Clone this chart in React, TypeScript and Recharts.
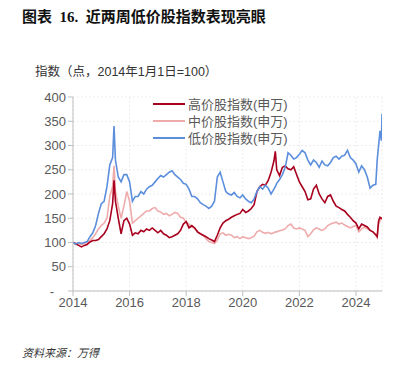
import React from "react";
import { LineChart, Line, XAxis, YAxis, CartesianGrid } from "recharts";

// 时间（年份小数）
const times = [
  2014.0, 2014.1, 2014.2, 2014.3, 2014.4, 2014.5, 2014.6, 2014.7, 2014.8, 2014.9,
  2015.0, 2015.1, 2015.2, 2015.3, 2015.4, 2015.45, 2015.5, 2015.6, 2015.7, 2015.8, 2015.9,
  2016.0, 2016.1, 2016.2, 2016.3, 2016.4, 2016.5, 2016.6, 2016.7, 2016.8, 2016.9,
  2017.0, 2017.1, 2017.2, 2017.3, 2017.4, 2017.5, 2017.6, 2017.7, 2017.8, 2017.9,
  2018.0, 2018.1, 2018.2, 2018.3, 2018.4, 2018.5, 2018.6, 2018.7, 2018.8, 2018.9,
  2019.0, 2019.1, 2019.2, 2019.3, 2019.4, 2019.5, 2019.6, 2019.7, 2019.8, 2019.9,
  2020.0, 2020.1, 2020.2, 2020.3, 2020.4, 2020.5, 2020.6, 2020.7, 2020.8, 2020.9,
  2021.0, 2021.1, 2021.15, 2021.2, 2021.3, 2021.4, 2021.5, 2021.6, 2021.7, 2021.8, 2021.9,
  2022.0, 2022.1, 2022.2, 2022.3, 2022.4, 2022.5, 2022.6, 2022.7, 2022.8, 2022.9,
  2023.0, 2023.1, 2023.2, 2023.3, 2023.4, 2023.5, 2023.6, 2023.7, 2023.8, 2023.9,
  2024.0, 2024.1, 2024.2, 2024.3, 2024.4, 2024.5, 2024.6, 2024.7, 2024.75, 2024.8,
  2024.85, 2024.9, 2024.92,
];

// 高价股指数(申万)
const highPrice = [
  100, 97, 94, 91, 94, 96, 101, 104, 104, 106,
  112, 118, 128, 145, 180, 228, 185, 150, 118, 145, 150,
  138, 115, 120, 118, 125, 122, 128, 125, 130, 125,
  120, 125, 118, 115, 110, 112, 115, 118, 125, 138,
  143, 130, 135, 130, 122, 118, 115, 112, 108, 105,
  102, 115, 130, 140, 145, 148, 152, 155, 158, 160,
  168, 162, 165, 170, 178, 205, 215, 220, 218, 228,
  245, 268, 288, 250, 238, 255, 258, 252, 250, 256, 240,
  225, 215, 205, 188, 190, 210, 218, 200, 190, 182,
  195, 198, 185, 175, 172, 168, 165, 158, 152, 145,
  140, 128, 138, 135, 132, 125, 122, 116, 112, 145,
  152, 150, 148,
];

// 中价股指数(申万)
const midPrice = [
  100, 99, 98, 96, 98, 100, 104, 110, 118, 128,
  135, 140, 150, 195, 215, 258, 205, 175, 150, 175, 205,
  185, 140, 145, 150, 155, 160, 165, 165, 170, 172,
  165, 163, 158, 160, 155, 158, 162, 160, 152, 150,
  142, 138, 132, 130, 122, 118, 115, 108, 102, 100,
  98, 105, 118, 120, 115, 117, 115, 110, 112, 108,
  112, 110, 108, 110, 113, 122, 125, 121, 119, 121,
  118, 120, 122, 122, 124, 126, 128, 135, 138, 130, 128,
  130, 128, 125, 112, 118, 126, 130, 128, 125, 128,
  135, 138, 140, 142, 138, 140, 136, 133, 130, 133,
  135, 122, 128, 132, 128, 125, 122, 115, 110, 138,
  145, 150, 148,
];

// 低价股指数(申万)
const lowPrice = [
  100, 97, 100, 98, 100, 102, 112, 120, 135, 160,
  180, 185, 215, 260, 275, 340, 270, 235, 225, 240, 240,
  225, 185, 195, 195, 205, 200, 210, 215, 218, 225,
  232, 238, 235, 240, 245, 248, 240, 235, 230, 222,
  220, 210, 195, 195, 190, 182, 178, 175, 170, 175,
  185, 235, 245, 225, 205, 200, 198, 203, 195, 192,
  198, 190, 185, 182, 190, 205, 215, 210, 218, 212,
  200, 210, 215, 222, 230, 240, 255, 285, 280, 272, 275,
  282, 290, 285, 270, 260, 270, 265, 255, 268, 260,
  258, 265, 275, 278, 272, 278, 280, 290, 275, 270,
  262, 245, 258, 250, 235, 212, 218, 220, 270, 300,
  330, 310, 365,
];

const yTicks = [0, 50, 100, 150, 200, 250, 300, 350, 400];
const xTicks = [2014, 2016, 2018, 2020, 2022, 2024];

const series = [
  { key: "high", name: "高价股指数(申万)", color: "#A8001E" },
  { key: "mid", name: "中价股指数(申万)", color: "#EFABAB" },
  { key: "low", name: "低价股指数(申万)", color: "#5B8EDC" },
];

const data = times.map((t, i) => ({
  t,
  high: highPrice[i],
  mid: midPrice[i],
  low: lowPrice[i],
}));

const font = "'Liberation Sans', 'Noto Sans CJK SC', sans-serif";

// 0 显示为 "-"，位置与 Excel 会计格式一致（略靠左）
function YTick(props: any) {
  const { x, y, payload } = props;
  const zero = payload.value === 0;
  return (
    <text
      x={zero ? x - 12 : x}
      y={y}
      dy={4.5}
      textAnchor="end"
      fill="#595959"
      fontSize={13}
    >
      {zero ? "-" : payload.value}
    </text>
  );
}

export default function App() {
  return (
    <div
      style={{
        position: "absolute",
        left: 0,
        top: 0,
        width: 409,
        height: 367,
        background: "#fff",
        fontFamily: font,
      }}
    >
      <div
        style={{
          position: "absolute",
          left: 22,
          top: 5,
          fontSize: 15,
          fontWeight: 700,
          color: "#111",
          fontFamily: "'Liberation Serif', 'Noto Sans CJK SC', serif",
        }}
      >
        图表&nbsp;&nbsp;16.&nbsp;&nbsp;近两周低价股指数表现亮眼
      </div>
      <div
        style={{
          position: "absolute",
          left: 35,
          top: 61,
          fontSize: 12.5,
          color: "#333",
        }}
      >
        指数（点，2014年1月1日=100）
      </div>
      <div style={{ position: "absolute", left: 0, top: 0 }}>
        <LineChart
          width={409}
          height={330}
          data={data}
          margin={{ top: 97, right: 27, bottom: 9, left: 18 }}
        >
          <CartesianGrid stroke="#ececec" strokeDasharray="2 2" />
          <XAxis
            dataKey="t"
            type="number"
            domain={[2014, 2024.92]}
            ticks={xTicks}
            allowDataOverflow
            stroke="#bfbfbf"
            tickSize={5}
            tick={{ fill: "#595959", fontSize: 13 }}
            height={30}
          />
          <YAxis
            domain={[0, 400]}
            ticks={yTicks}
            width={55}
            stroke="#bfbfbf"
            tickSize={5}
            tick={<YTick />}
          />
          {[series[1], series[0], series[2]].map((s) => (
            <Line
              key={s.key}
              type="linear"
              dataKey={s.key}
              name={s.name}
              stroke={s.color}
              strokeWidth={1.6}
              dot={false}
              isAnimationActive={false}
            />
          ))}
        </LineChart>
      </div>
      <div
        style={{
          position: "absolute",
          left: 153,
          top: 95,
          fontSize: 13,
          color: "#595959",
          background: "#fff",
        }}
      >
        {series.map((s) => (
          <div key={s.key} style={{ display: "flex", alignItems: "center", height: 17 }}>
            <span
              style={{
                display: "inline-block",
                width: 32,
                height: 2,
                background: s.color,
                marginRight: 3,
              }}
            />
            {s.name}
          </div>
        ))}
      </div>
      <div
        style={{
          position: "absolute",
          left: 22,
          top: 344,
          fontSize: 11,
          fontStyle: "italic",
          color: "#333",
        }}
      >
        资料来源：万得
      </div>
    </div>
  );
}
